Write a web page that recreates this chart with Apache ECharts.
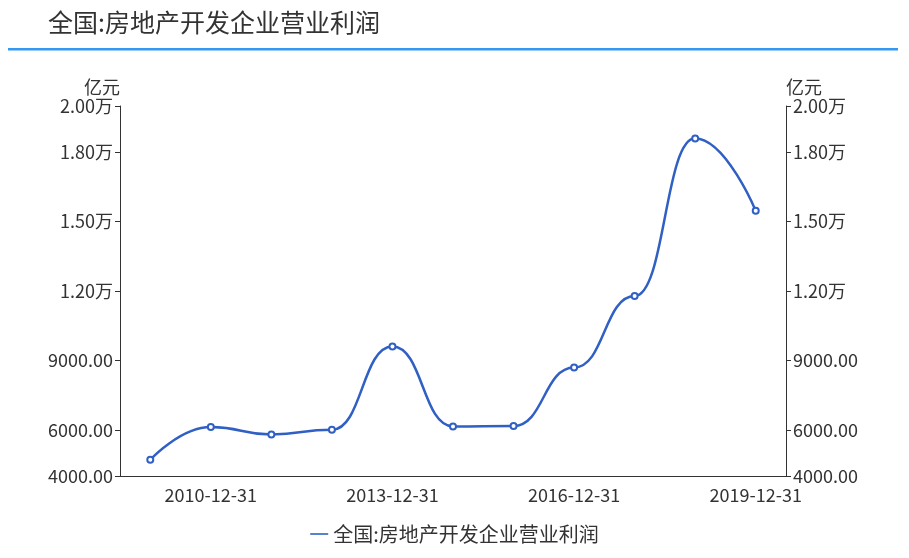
<!DOCTYPE html>
<html><head><meta charset="utf-8">
<script src="https://cdn.jsdelivr.net/npm/echarts@6/dist/echarts.min.js"></script>
<style>html,body{margin:0;padding:0;background:#fff}#c{width:909px;height:558px}</style>
</head><body><div id="c"></div>
<script>
const categories = ['2009-12-31','2010-12-31','2011-12-31','2012-12-31','2013-12-31','2014-12-31','2015-12-31','2016-12-31','2017-12-31','2018-12-31','2019-12-31'];
const profit = [4700, 6117, 5796, 6000, 9600, 6143, 6165, 8690, 11780, 18600, 15465];
const seriesName = '全国:房地产开发企业营业利润';
const titleText = '全国:房地产开发企业营业利润';
const unitName = '亿元';

const FONT = '"Noto Sans CJK SC", "Noto Sans", sans-serif';
function fmt(v){ return v >= 10000 ? (v/10000).toFixed(2) + '万' : v.toFixed(2); }
const showIdx = (i) => i % 3 === 1;
const yBase = {
  type: 'value', min: 4000, max: 20000, name: unitName,
  nameTextStyle: {color: '#333', fontSize: 18, fontFamily: FONT},
  nameGap: 10,
  axisLine: {show: true, lineStyle: {color: '#333'}},
  axisTick: {show: true, lineStyle: {color: '#333'}},
  splitLine: {show: false},
  axisLabel: {formatter: fmt, color: '#333', fontSize: 18, fontFamily: FONT, margin: 7}
};
const chart = echarts.init(document.getElementById('c'));
chart.setOption({
  animation: false,
  textStyle: {fontFamily: FONT},
  title: {text: titleText, left: 43, top: 5, textStyle: {fontSize: 25, fontWeight: 'normal', color: '#333', fontFamily: FONT}},
  graphic: [{type: 'rect', shape: {x: 8, y: 48, width: 890, height: 2.5}, style: {fill: '#3598f0'}}],
  legend: {top: 519, left: 'center', itemWidth: 18, itemHeight: 10, icon: 'path://M0,4 L18,4 L18,5.6 L0,5.6 Z',
    textStyle: {fontSize: 20, color: '#333', fontFamily: FONT}, data: [seriesName]},
  grid: {left: 120, right: 123, top: 106, bottom: 82},
  xAxis: {type: 'category', data: categories, boundaryGap: true,
    axisLine: {lineStyle: {color: '#333'}},
    axisTick: {interval: showIdx, lineStyle: {color: '#333'}},
    axisLabel: {interval: showIdx, color: '#333', fontSize: 18, fontFamily: FONT, margin: 10}},
  yAxis: [
    Object.assign({}, yBase, {position: 'left', nameTextStyle: Object.assign({}, yBase.nameTextStyle, {align: 'right'})}),
    Object.assign({}, yBase, {position: 'right', nameTextStyle: Object.assign({}, yBase.nameTextStyle, {align: 'left'})})
  ],
  series: [{name: seriesName, type: 'line', data: profit, smooth: true, smoothMonotone: 'x', yAxisIndex: 0,
    symbol: 'emptyCircle', symbolSize: 6,
    lineStyle: {color: '#3060c4', width: 2.5}, itemStyle: {color: '#3060c4', borderWidth: 1.5}}]
});
</script></body></html>
